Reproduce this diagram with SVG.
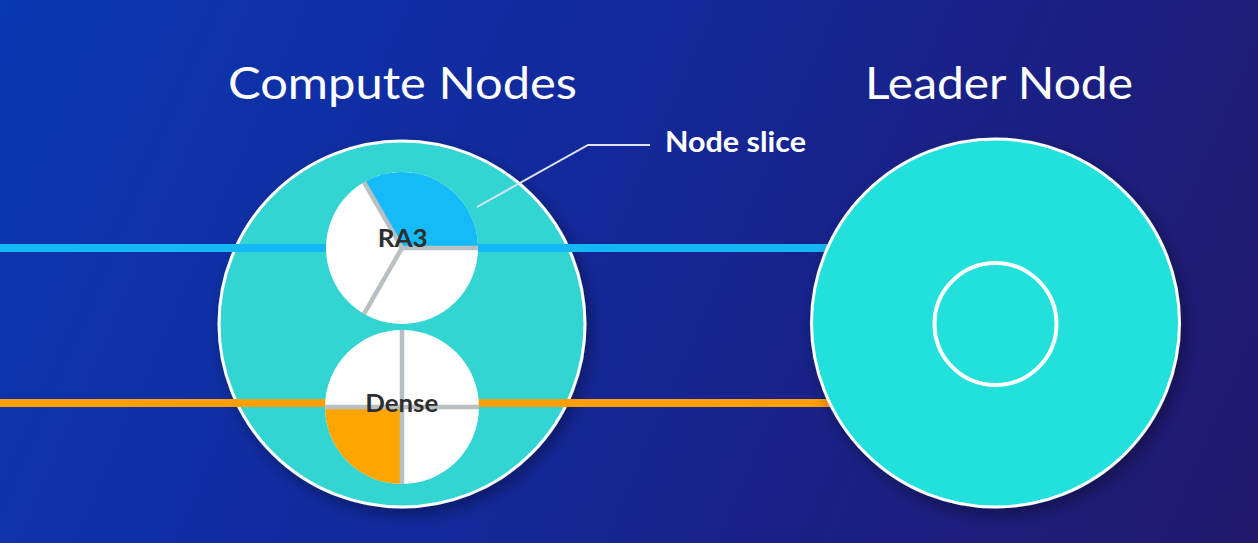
<svg xmlns="http://www.w3.org/2000/svg" width="1258" height="543" viewBox="0 0 1258 543">
<defs>
<linearGradient id="bg" x1="0" y1="0" x2="1258" y2="543" gradientUnits="userSpaceOnUse">
<stop offset="0" stop-color="#0a38b2"/>
<stop offset="0.45" stop-color="#13289a"/>
<stop offset="1" stop-color="#22186c"/>
</linearGradient>
<filter id="sh" x="-20%" y="-20%" width="140%" height="140%">
<feGaussianBlur in="SourceAlpha" stdDeviation="8"/>
<feOffset dx="4" dy="6" result="b"/>
<feComponentTransfer><feFuncA type="linear" slope="0.35"/></feComponentTransfer>
<feMerge><feMergeNode/><feMergeNode in="SourceGraphic"/></feMerge>
</filter>
<style>
.title{font-family:Lato,"Liberation Sans",sans-serif;font-size:44px;fill:#ffffff;text-anchor:middle}
.lbl{font-family:Lato,"Liberation Sans",sans-serif;font-weight:bold;font-size:25.5px;fill:#2e2e2e;text-anchor:middle}
.call{font-family:Lato,"Liberation Sans",sans-serif;font-weight:bold;font-size:28px;fill:#ffffff}
.sep{stroke:#b8c0c4;stroke-width:4.5;fill:none}
.pie{fill:#ffffff}
</style>
</defs>
<rect width="1258" height="543" fill="url(#bg)"/>

<g id="compute-nodes">
<circle cx="402" cy="324" r="183" fill="#33d5d1" stroke="#ffffff" stroke-width="3" filter="url(#sh)"/>
</g>

<g id="connectors">
<line x1="0" y1="248" x2="830" y2="248" stroke="#15b8f4" stroke-width="8"/>
<line x1="0" y1="403" x2="830" y2="403" stroke="#ff9f05" stroke-width="8"/>
<polyline points="650,145 588,145 477,207" fill="none" stroke="#dfe3f5" stroke-width="2"/>
</g>

<g id="ra3">
<circle class="pie" cx="402" cy="248" r="76"/>
<path d="M402,248 L364,182.2 A76,76 0 0 1 478,248 Z" fill="#15bbf6"/>
<line class="sep" x1="402" y1="248" x2="478" y2="248"/>
<line class="sep" x1="402" y1="248" x2="364" y2="182.2"/>
<line class="sep" x1="402" y1="248" x2="364" y2="313.8"/>
<text class="lbl" x="402.7" y="247" textLength="50" lengthAdjust="spacingAndGlyphs">RA3</text>
</g>

<g id="dense">
<circle class="pie" cx="402" cy="407" r="77"/>
<path d="M402,407 L325,407 A77,77 0 0 0 402,484 Z" fill="#ffa500"/>
<line class="sep" x1="402" y1="330" x2="402" y2="484"/>
<line class="sep" x1="325" y1="407" x2="479" y2="407"/>
<text class="lbl" x="401.7" y="412" textLength="73" lengthAdjust="spacingAndGlyphs">Dense</text>
</g>

<g id="leader-node">
<circle cx="995.5" cy="323" r="184" fill="#24e0dc" stroke="#ffffff" stroke-width="3" filter="url(#sh)"/>
<circle cx="995.5" cy="324" r="61" fill="none" stroke="#ffffff" stroke-width="4"/>
</g>

<g id="titles">
<text class="title" x="402.5" y="99" textLength="349" lengthAdjust="spacingAndGlyphs">Compute Nodes</text>
<text class="title" x="999" y="98.5" textLength="268" lengthAdjust="spacingAndGlyphs">Leader Node</text>
<text class="call" x="665" y="152" textLength="141" lengthAdjust="spacingAndGlyphs">Node slice</text>
</g>
</svg>
